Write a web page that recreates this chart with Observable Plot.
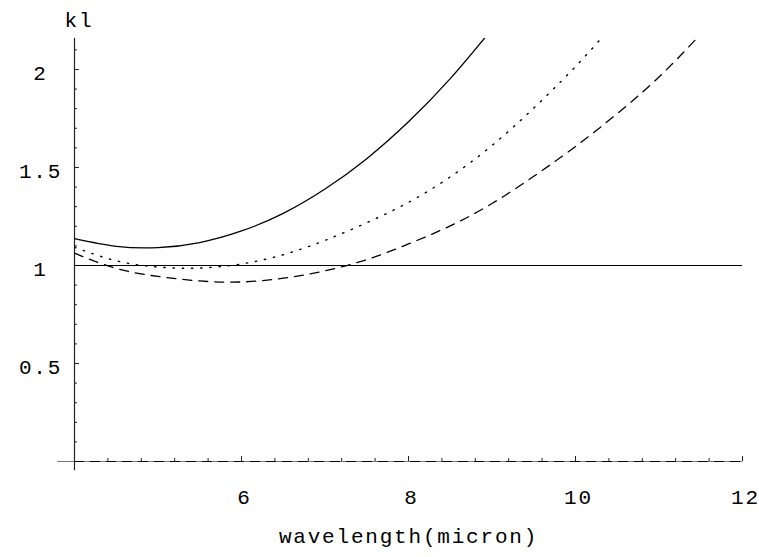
<!DOCTYPE html>
<html>
<head>
<meta charset="utf-8">
<script src="https://cdn.jsdelivr.net/npm/d3@7"></script>
<script src="https://cdn.jsdelivr.net/npm/@observablehq/plot@0.6"></script>
<style>
  body { margin: 0; background: #fff; }
  #chart svg { display: block; }
</style>
</head>
<body>
<div id="chart"></div>
<script>
// ---- data ----
const wavelength = [4, 4.5, 5, 5.5, 6, 6.5, 7, 7.5, 8, 8.5, 9, 9.5, 10, 10.5, 11, 11.5];
const klSolid  = [1.137, 1.098, 1.091, 1.117, 1.176, 1.266, 1.390, 1.545, 1.733, 1.953, 2.206];
const klDotted = [1.093, 1.024, 0.992, 0.987, 1.008, 1.055, 1.128, 1.218, 1.322, 1.452, 1.612, 1.803, 2.015, 2.25];
const klDashed = [1.063, 0.985, 0.944, 0.921, 0.916, 0.935, 0.973, 1.030, 1.110, 1.202, 1.316, 1.455, 1.607, 1.775, 1.962, 2.18];
const klZero   = [0, 0];
const zeroX    = [4, 12];
const refLevel = [1];

const xTicks = [6, 8, 10, 12];
const xTickLabels = ["6", "8", "10", "12"];
const yTicks = [0.5, 1, 1.5, 2];
const yTickLabels = ["0.5", "1", "1.5", "2"];
const xMinorTicks = d3.range(4.4, 12, 0.4).filter(v => !xTicks.some(t => Math.abs(t - v) < 1e-6));
const yMinorTicks = d3.range(0.1, 2.15, 0.1).filter(v => !yTicks.some(t => Math.abs(t - v) < 1e-6));

const xLabel = "wavelength(micron)";
const yLabel = "kl";

// ---- layout ----
const xDomain = [4, 12];
const yDomain = [0, 2.158];
const xAxisExtent = [3.8, 12];
const yAxisExtent = [-0.046, 2.158];

const toRows = (vals) => vals.map((v, i) => ({x: wavelength[i], y: v}));
const solidRows = toRows(klSolid);
const dottedRows = toRows(klDotted);
const dashedRows = toRows(klDashed);
const zeroRows = klZero.map((v, i) => ({x: zeroX[i], y: v}));

// tick lengths in data units (px / px-per-unit)
const xUnitPx = 668 / (xDomain[1] - xDomain[0]);
const yUnitPx = 423 / (yDomain[1] - yDomain[0]);

const chart = Plot.plot({
  width: 759,
  height: 557,
  marginLeft: 74,
  marginRight: 17,
  marginTop: 38,
  marginBottom: 96,
  style: {fontFamily: "'Liberation Mono', monospace", fontSize: "21px", letterSpacing: "1.8px", color: "#000", background: "#fff"},
  x: {domain: xDomain, label: null, axis: null},
  y: {domain: yDomain, label: null, axis: null},
  marks: [
    // axes lines
    Plot.ruleY([0], {x1: xAxisExtent[0], x2: xAxisExtent[1], stroke: "#777", strokeWidth: 1.2}),
    Plot.ruleX([xDomain[0]], {y1: yAxisExtent[0], y2: yAxisExtent[1], stroke: "#222", strokeWidth: 1.2}),
    // x ticks (pointing up)
    Plot.ruleX(xTicks, {x: d => d, y1: 0, y2: 5 / yUnitPx, stroke: "#222", strokeWidth: 1}),
    Plot.ruleX(xMinorTicks, {x: d => d, y1: 0, y2: 3 / yUnitPx, stroke: "#222", strokeWidth: 1}),
    // y ticks (pointing right)
    Plot.ruleY(yTicks, {y: d => d, x1: xDomain[0], x2: xDomain[0] + 5 / xUnitPx, stroke: "#222", strokeWidth: 1}),
    Plot.ruleY(yMinorTicks, {y: d => d, x1: xDomain[0], x2: xDomain[0] + 3 / xUnitPx, stroke: "#222", strokeWidth: 1}),
    // tick labels
    Plot.axisX(xTicks, {tickSize: 0, tickPadding: 28, dx: 3, tickFormat: (d, i) => xTickLabels[i], fontSize: 21, label: null}),
    Plot.axisY(yTicks, {tickSize: 0, tickPadding: 34, textAnchor: "middle", dy: 4, tickFormat: (d, i) => yTickLabels[i], fontSize: 21, label: null}),
    // reference line at 1
    Plot.ruleY(refLevel, {x1: xDomain[0], x2: xDomain[1], stroke: "#000", strokeWidth: 1.2}),
    // zero dashed curve
    Plot.line(zeroRows, {x: "x", y: "y", stroke: "#000", strokeWidth: 1.2, strokeDasharray: "9,7"}),
    // curves
    Plot.line(solidRows, {x: "x", y: "y", curve: "natural", stroke: "#000", strokeWidth: 1.3, clip: true}),
    Plot.line(dottedRows, {x: "x", y: "y", curve: "natural", stroke: "#000", strokeWidth: 1.4, strokeDasharray: "1.4,7.8", clip: true}),
    Plot.line(dashedRows, {x: "x", y: "y", curve: "natural", stroke: "#000", strokeWidth: 1.3, strokeDasharray: "9,7", clip: true}),
    // axis labels
    Plot.text([yLabel], {text: d => d, frameAnchor: "top-left", dx: -10, dy: -26, textAnchor: "start", fontSize: 21}),
    Plot.text([xLabel], {text: d => d, frameAnchor: "bottom", dy: 81, fontSize: 21})
  ]
});
document.getElementById("chart").appendChild(chart);
</script>
</body>
</html>
